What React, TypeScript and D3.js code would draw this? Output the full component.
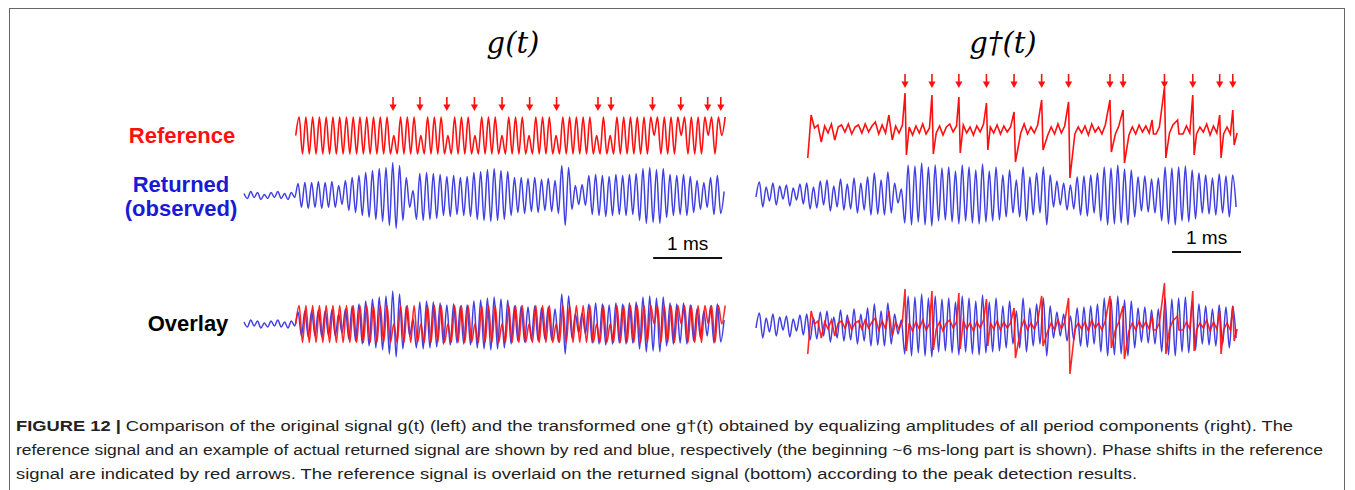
import React from "react";
import * as d3 from "d3";

// time between successive extrema of the traces (ms)
const STEP = 0.049;
// the reference starts this late inside each panel (ms)
const REF_START = 0.75;

// phase shift positions, ms after the reference start
const arrowTimes = [1.41, 1.8, 2.19, 2.59, 2.99, 3.39, 3.78, 4.38, 4.57, 5.17, 5.58, 5.97, 6.16];

// g(t) reference, extrema (+1 top, -1 bottom, 0 = phase shift notch)
const refLeft = [
  0, 1, -1, 1, -1, 1, -1, 1, -1, 1, -1, 1, -1, 1, -1, 1,
  -1, 1, -1, 1, -1, 1, -1, 1, -1, 1, -1, 1, -1, 0, -1, 1,
  -1, 1, -1, 1, -1, 0, -1, 1, -1, 1, -1, 1, -1, 0, -1, 1,
  -1, 1, -1, 1, -1, 0, -1, 1, -1, 1, -1, 1, -1, 0, -1, 1,
  -1, 1, -1, 1, -1, 0, -1, 1, -1, 1, -1, 1, -1, 0, -1, 1,
  -1, 1, -1, 1, -1, 1, -1, 1, -1, 0, -1, 1, -1, 0, -1, 1,
  -1, 1, -1, 1, -1, 1, -1, 1, -1, 1, 0, 1, -1, 1, -1, 1,
  -1, 1, 0, 1, -1, 1, -1, 1, -1, 1, 0, 1, -1, 1, 0, 1,
];

// returned signal for g(t), extrema
const retLeft = [
  2, -3, 4, -2, 3, -4, 1, -3, 3, -2, 4, -3, 2, -4, 3, -2,
  12, -12, 13, -13, 13, -12, 14, -13, 13, -12,
  14, -12, 10, -9, 15,
  -15, 18, -17, 20, -20, 23, -22, 25, -24, 27, -26, 28,
  -30, 33, -33, 30,
  -25, 18, -12, 5,
  -24, 22, -25, 23, -24, 22, -23, 21,
  -20, 19, -21, 20, -19, 18, -20, 19, -21,
  23, -24, 24, -25, 26, -26, 27, -25,
  25, -24, 24, -20,
  18, -17, 18, -18, 17, -16, 18, -17, 16, -15,
  17, -16, 15, -18,
  30, -30, 28,
  -14, 10, -9, 11, -10,
  20, -19, 21, -20, 20, -21, 19, -20, 21, -19, 20, -20, 21, -19, 22,
  -25, 27, -28, 28, -27, 26, -28, 27,
  -22, 21, -20, 20, -19, 21, -20, 19,
  -17, 15, -14, 13, -12,
  18, -19, 20, -18, 4,
];

// g†(t) reference: background ripple
const refRightNoise = [
  -28, 15, 2, 5, -12, 4, -3, 6, -10, 3, 5, -2, 6, -4, 3, 5,
  -3, 6, -2, 4, 8, -4, 5, -3, 15, -10, 4, -3, 5, -4, 3, -5,
  4, -3, 6, -4, 2, 5, -3, 4, -5, 3, 6, -2, 4, -4, 5, -3,
  3, -5, 4, -2, 6, -4, 3, -3, 5, -4, 4, -2, 3, -5, 4, -3,
  6, -4, 3, -3, 5, -2, 4, -5, 3, -4, 6, -3, 4, -2, 5, -4,
  3, -3, 4, -5, 6, -2, 3, -4, 5, -3, 4, -4, 4, -3, 4, -5,
  3, -4, 5, -2, 4, -3, 6, -4, 3, -5, 4, -3, 5, -2, 4, -4,
  4, -3, 5, -4, 3, -2, 6, -5, 4, -3, 5, -4, 3, -4, 5, -3,
];

// g†(t) reference: spikes (ms after reference start, height up, depth down)
const refRightSpikes = [
  { t: 1.41, hi: 37, lo: 25 },
  { t: 1.8, hi: 35, lo: 24 },
  { t: 2.19, hi: 33, lo: 23 },
  { t: 2.59, hi: 27, lo: 20 },
  { t: 2.99, hi: 18, lo: 32 },
  { t: 3.39, hi: 30, lo: 20 },
  { t: 3.78, hi: 28, lo: 48 },
  { t: 4.38, hi: 30, lo: 22 },
  { t: 4.57, hi: 20, lo: 33 },
  { t: 4.99, hi: 10, lo: 4 },
  { t: 5.17, hi: 43, lo: 28 },
  { t: 5.36, hi: 10, lo: 4 },
  { t: 5.58, hi: 35, lo: 25 },
  { t: 5.97, hi: 15, lo: 28 },
  { t: 6.16, hi: 20, lo: 15 },
];

// returned signal for g†(t), extrema
const retRight = [
  -2, 13, -12, 8, -6, 12, -10, 9, -4, 10, -11, 7, -5, 11,
  -9, 12, -14, 8, -13, 14, -10, 15, -16, 9, -12, 16, -15, 11, -14, 17, -18, 12, -15, 18,
  -20, 22, -19, 15, -20, 23, -18, 12, -8, 6,
  -28, 30, -30, 29, -27, 32, -30, 28, -31, 30, -26, 27,
  -25, 28, -27, 24, -29, 30, -26, 28, -28, 25, -29, 31, -27, 24, -26, 28, -25,
  20, -22, 25, -18, 15, -22, 28, -26,
  18, -20, 22, -18, 28, -30, 20,
  -12, 14, -10, 12, -15, 10, -14,
  18, -20, 19, -21, 20, -18, 22,
  -26, 28, -30, 27, -29, 30, -28, 26, -30, 25, -22,
  18, -16, 19, -17, 16, -18, 17,
  -26, 28, -29, 27, -30, 28, -26, 29, -27, 25, -24, 22,
  -18, 20, -19, 17, -20, 21, -18, 19, -22, 20, -12,
];

const panelTitles = ["g(t)", "g†(t)"];
const titleX = [513, 1003];
const rowLabels = ["Reference", "Returned", "(observed)", "Overlay"];
const scaleBarStart = [5.93, 6.03]; // ms
const captionLines = [
  ["FIGURE 12 | ", "Comparison of the original signal g(t) (left) and the transformed one g†(t) obtained by equalizing amplitudes of all period components (right). The"],
  ["", "reference signal and an example of actual returned signal are shown by red and blue, respectively (the beginning ~6 ms-long part is shown). Phase shifts in the reference"],
  ["", "signal are indicated by red arrows. The reference signal is overlaid on the returned signal (bottom) according to the peak detection results."],
];

const RED = "#ff1010";
const BLUE = "#4040e2";
const PX_PER_MS = 69;

type Pt = [number, number];

const toPts = (vals: number[], t0: number): Pt[] => vals.map((v, i) => [t0 + i * STEP, v]);

const rightRefPts = (): Pt[] => {
  const kept = toPts(refRightNoise, REF_START).filter(
    ([t]) => !refRightSpikes.some((s) => t > REF_START + s.t - 0.03 && t < REF_START + s.t + 0.05)
  );
  const spikes: Pt[] = refRightSpikes.flatMap((s) => [
    [REF_START + s.t, s.hi] as Pt,
    [REF_START + s.t + 0.02, -s.lo] as Pt,
  ]);
  return [...kept, ...spikes].sort((a, b) => a[0] - b[0]);
};

function Panel({ left, side }: { left: number; side: number }) {
  const x = d3.scaleLinear().domain([0, 7]).range([left, left + 7 * PX_PER_MS]);
  const rows = side === 0 ? { ref: 135.5, ret: 195.5, ov: 324, arrow: 97 } : { ref: 130, ret: 195, ov: 326, arrow: 74 };

  const trace = (center: number, domain: number, curve: d3.CurveFactory) =>
    d3
      .line<Pt>()
      .x((d) => x(d[0]))
      .y((d) => d3.scaleLinear().domain([-domain, domain]).range([center + domain, center - domain])(d[1]))
      .curve(curve);

  const refPath = (center: number) =>
    side === 0
      ? d3
          .line<Pt>()
          .x((d) => x(d[0]))
          .y((d) => d3.scaleLinear().domain([-1, 1]).range([center + 18.5, center - 18.5])(d[1]))
          .curve(d3.curveMonotoneX)(toPts(refLeft, REF_START))
      : trace(center, 40, d3.curveLinear)(rightRefPts());

  const retPath = (center: number) =>
    trace(center, 40, d3.curveMonotoneX)(toPts(side === 0 ? retLeft : retRight, 0));

  const bar0 = x(scaleBarStart[side]);
  const bar1 = x(scaleBarStart[side] + 1);
  const barY = side === 0 ? 258 : 252;

  return (
    <g>
      <text x={titleX[side]} y={53} textAnchor="middle" fontFamily="'DejaVu Serif', serif" fontStyle="italic" fontSize={29}>
        {panelTitles[side]}
      </text>
      {arrowTimes.map((t, i) => {
        const ax = x(REF_START + t);
        const y0 = rows.arrow;
        return (
          <g key={i} fill={RED} stroke={RED}>
            <line x1={ax} x2={ax} y1={y0} y2={y0 + 9} strokeWidth={1.6} />
            <path d={`M${ax - 3.6},${y0 + 7.5}L${ax + 3.6},${y0 + 7.5}L${ax},${y0 + 14}Z`} stroke="none" />
          </g>
        );
      })}
      <path d={refPath(rows.ref) ?? ""} fill="none" stroke={RED} strokeWidth={1.6} />
      <path d={retPath(rows.ret) ?? ""} fill="none" stroke={BLUE} strokeWidth={1.5} />
      <path d={retPath(rows.ov) ?? ""} fill="none" stroke={BLUE} strokeWidth={1.5} />
      <path d={refPath(rows.ov) ?? ""} fill="none" stroke={RED} strokeWidth={1.6} strokeOpacity={0.9} />
      <line x1={bar0} x2={bar1} y1={barY} y2={barY} stroke="#111" strokeWidth={2} />
      <text x={(bar0 + bar1) / 2} y={barY - 8} textAnchor="middle" fontFamily="'Liberation Sans', Arial, sans-serif" fontSize={19}>
        1 ms
      </text>
    </g>
  );
}

export default function App() {
  const font = "'Liberation Sans', Arial, sans-serif";
  const widths = [1277, 1307, 1121];
  return (
    <svg width={1355} height={490} style={{ position: "absolute", left: 0, top: 0, background: "#fff" }}>
      <rect x={9.5} y={8.5} width={1335} height={500} fill="none" stroke="#666" strokeWidth={1} />
      <g fontFamily={font} fontWeight="bold" fontSize={22} textAnchor="middle">
        <text x={182} y={143} fill={RED}>{rowLabels[0]}</text>
        <text x={181} y={192} fill="#1a1ad6">{rowLabels[1]}</text>
        <text x={181} y={216} fill="#1a1ad6">{rowLabels[2]}</text>
        <text x={188} y={331} fill="#000">{rowLabels[3]}</text>
      </g>
      <Panel left={244} side={0} />
      <Panel left={756} side={1} />
      <g fontFamily={font} fontSize={15.5} fill="#222">
        {captionLines.map((ln, i) => (
          <text key={i} x={16} y={431 + i * 24} textLength={widths[i]} lengthAdjust="spacingAndGlyphs">
            {ln[0] && <tspan fontWeight="bold">{ln[0]}</tspan>}
            <tspan>{ln[1]}</tspan>
          </text>
        ))}
      </g>
    </svg>
  );
}
